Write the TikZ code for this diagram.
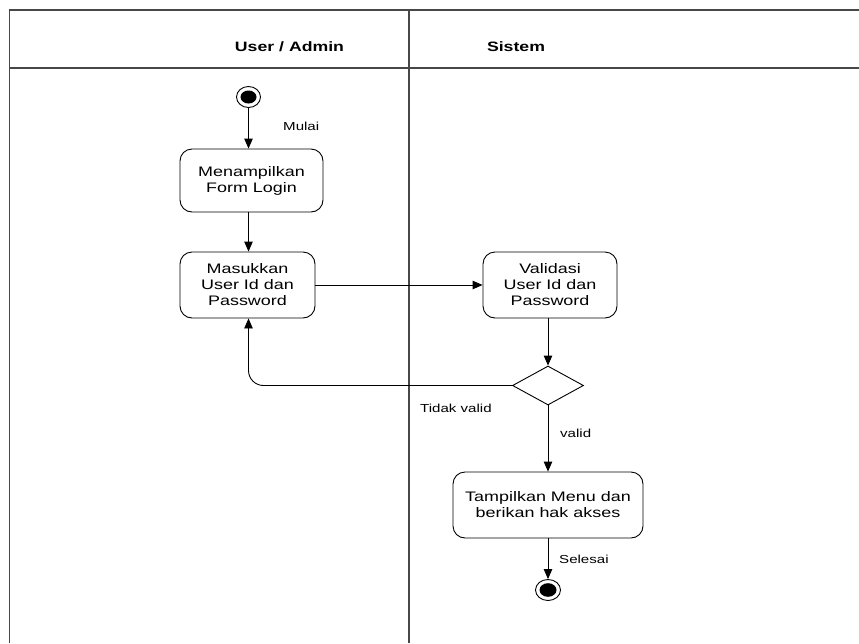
\documentclass[tikz,border=0pt]{standalone}
\usepackage{fontspec}
\setmainfont[FakeStretch=1.3]{Liberation Sans}
\usetikzlibrary{arrows.meta,shapes.geometric}

\tikzset{
  lane/.style={draw=black!72, line width=1.2pt},
  activity/.style={draw, line width=0.9pt, rounded corners=12pt, align=center,
    inner sep=0pt, font=\fontsize{13.8}{16}\selectfont},
  flow/.style={draw, line width=0.9pt, -{Triangle[length=10pt,width=8.5pt]}},
  guard/.style={anchor=west, inner sep=0pt, font=\fontsize{11.6}{13}\selectfont},
  lanetitle/.style={inner sep=0pt, font=\bfseries\fontsize{13.6}{15}\selectfont},
  choice/.style={draw, line width=0.9pt, diamond, inner sep=0pt, minimum width=71pt,
    minimum height=39pt, aspect=1.8},
}

\begin{document}
\begin{tikzpicture}[x=1pt, y=-1pt]
  \useasboundingbox (0,0) rectangle (859,643);

  % swimlane frame
  \coordinate (tl) at (9.5,10);
  \coordinate (tr) at (859,10);
  \coordinate (hl) at (9.5,68);
  \coordinate (hr) at (859,68);
  \coordinate (bl) at (9.5,643);
  \coordinate (dt) at (409,10);
  \coordinate (db) at (409,643);
  \draw[lane] (tr) -- (tl) -- (bl);
  \draw[lane] (hl) -- (hr);
  \draw[lane] (dt) -- (db);

  \node[lanetitle] (laneA) at (289.5,47) {User / Admin};
  \node[lanetitle] (laneB) at (516,47) {Sistem};

  % initial and final states
  \node[draw, line width=0.9pt, ellipse, minimum width=24pt, minimum height=21pt, inner sep=0pt] (start) at (248.5,97) {};
  \fill (start.center) ellipse [x radius=8pt, y radius=6.5pt];

  \node[draw, line width=0.9pt, ellipse, minimum width=25pt, minimum height=21pt, inner sep=0pt] (stop) at (548,590) {};
  \fill (stop.center) ellipse [x radius=8.5pt, y radius=6.8pt];

  % activities
  \node[activity, minimum width=143pt, minimum height=63pt] (form) at (251.5,180.5) {Menampilkan\\Form Login};
  \node[activity, minimum width=135pt, minimum height=66pt] (input) at (247.5,285) {Masukkan\\User Id dan\\Password};
  \node[activity, minimum width=134pt, minimum height=66pt] (check) at (550,285) {Validasi\\User Id dan\\Password};
  \node[choice] (decide) at (548,385.5) {};
  \node[activity, minimum width=190pt, minimum height=66pt] (menu) at (548,505) {Tampilkan Menu dan\\berikan hak akses};

  % transitions
  \draw[flow] (start.south) -- (start.south |- form.north);
  \draw[flow] (start.south |- form.south) -- (start.south |- input.north);
  \draw[flow] (input.east) -- (input.east -| check.west);
  \draw[flow] (decide.north |- check.south) -- (decide.north);
  \draw[flow, rounded corners=15pt] (decide.west) -- (decide.west -| start.south) -- (start.south |- input.south);
  \draw[flow] (decide.south) -- (decide.south |- menu.north);
  \draw[flow] (stop.north |- menu.south) -- (stop.north);

  % guard labels
  \node[guard] (lblStart) at (283,126) {Mulai};
  \node[guard] (lblNo) at (420,408) {Tidak valid};
  \node[guard] (lblYes) at (560,433) {valid};
  \node[guard] (lblEnd) at (559,559) {Selesai};
\end{tikzpicture}
\end{document}
